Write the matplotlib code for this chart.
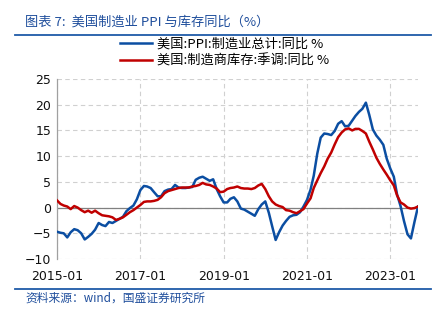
import matplotlib
matplotlib.use('Agg')
import matplotlib.pyplot as plt
import matplotlib.dates as mdates
import pandas as pd

plt.rcParams['font.family'] = ['Noto Sans CJK SC', 'DejaVu Sans']

# monthly, 2015-01 onwards
start = '2015-01'
ppi_mfg = [-4.7, -4.9, -5.0, -5.8, -4.8, -4.2, -4.4, -5.0, -6.2, -5.7,
           -5.1, -4.3, -3.0, -3.4, -3.6, -2.8, -3.0, -2.6, -2.2, -1.8,
           -0.7, -0.1, 0.4, 1.6, 3.4, 4.2, 4.1, 3.8, 3.0, 2.2,
           2.2, 3.2, 3.5, 3.6, 4.4, 3.9, 3.8, 3.8, 3.9, 4.0,
           5.4, 5.8, 6.0, 5.6, 5.2, 5.5, 3.6, 2.2, 1.0, 1.0,
           1.7, 2.0, 1.2, -0.2, -0.4, -0.8, -1.2, -1.6, -0.3, 0.6,
           1.2, -1.0, -3.6, -6.3, -4.8, -3.5, -2.6, -1.8, -1.5, -1.4,
           -0.9, 0.2, 1.5, 3.5, 6.2, 10.5, 13.6, 14.4, 14.3, 14.1,
           14.9, 16.3, 16.8, 15.8, 15.9, 16.9, 17.8, 18.6, 19.2, 20.4,
           18.0, 15.2, 14.0, 13.2, 12.2, 9.5, 7.6, 6.0, 2.6, 0.3,
           -2.6, -5.2, -6.0, -2.8, 0.2]
inventory = [1.4, 0.7, 0.4, 0.2, -0.3, 0.3, 0.0, -0.5, -0.9, -0.6,
             -1.0, -0.6, -1.1, -1.5, -1.6, -1.7, -1.9, -2.4, -2.2, -1.9,
             -1.4, -0.9, -0.5, 0.0, 0.5, 1.1, 1.2, 1.2, 1.3, 1.5,
             2.0, 2.8, 3.2, 3.4, 3.6, 3.8, 3.9, 3.9, 3.9, 4.1,
             4.2, 4.4, 4.8, 4.5, 4.4, 4.1, 3.7, 3.0, 3.1, 3.6,
             3.8, 3.9, 4.1, 3.8, 3.7, 3.7, 3.6, 3.8, 4.3, 4.6,
             3.6, 2.2, 1.2, 0.6, 0.3, 0.1, -0.5, -0.6, -0.9, -1.1,
             -0.7, -0.3, 0.8, 1.8, 3.8, 5.3, 6.7, 8.0, 9.5, 10.7,
             12.3, 13.7, 14.6, 15.2, 15.4, 15.0, 15.3, 15.3, 14.9, 14.4,
             12.8, 11.3, 9.7, 8.5, 7.4, 6.4, 5.3, 4.3, 2.4, 1.0,
             0.6, 0.0, -0.2, -0.1, 0.2]
series_names = ['美国:PPI:制造业总计:同比 %', '美国:制造商库存:季调:同比 %']
x_ticks = ['2015-01', '2017-01', '2019-01', '2021-01', '2023-01']
y_ticks = [-10, -5, 0, 5, 10, 15, 20, 25]

dates = pd.date_range(start, periods=len(ppi_mfg), freq='MS')

blue = '#0B4EA2'
red = '#C00000'
title_blue = '#1F4E9C'

fig = plt.figure(figsize=(4.44, 3.22), dpi=100)
ax = fig.add_axes([57 / 444, 1 - 259 / 322, 361 / 444, 180 / 322])

ax.plot(dates, ppi_mfg, color=blue, lw=1.8, label=series_names[0], zorder=3)
ax.plot(dates, inventory, color=red, lw=1.8, label=series_names[1], zorder=3)

ax.set_xlim(dates[0], dates[-1])
ax.set_ylim(-10, 25)
ax.set_yticks(y_ticks)
ax.set_xticks(pd.to_datetime(x_ticks))
ax.xaxis.set_major_formatter(mdates.DateFormatter('%Y-%m'))
ax.tick_params(length=0, labelsize=9, colors='#111111', pad=4)
for lab in ax.get_xticklabels() + ax.get_yticklabels():
    lab.set_family('DejaVu Sans')
ax.tick_params(axis='x', pad=8)

ax.grid(True, color='#D0D0D0', ls=(0, (4, 3)), lw=0.8)
ax.axhline(0, color='#808080', lw=0.9, zorder=2)
for s in ['top', 'right', 'bottom']:
    ax.spines[s].set_visible(False)
ax.spines['left'].set_color('#A0A0A0')
ax.spines['left'].set_linewidth(0.9)

fig.legend(loc='upper left', bbox_to_anchor=(120 / 444, 1 - 38 / 322),
           frameon=False, fontsize=9.5, handlelength=2.4, handletextpad=0.4,
           labelspacing=0.25, borderaxespad=0, borderpad=0)

fig.text(25 / 444, 1 - 22 / 322, '图表 7:  美国制造业 PPI 与库存同比（%）',
         color=title_blue, fontsize=9.5, va='center', ha='left')
fig.text(25 / 444, 1 - 298 / 322, '资料来源：wind，国盛证券研究所',
         color=title_blue, fontsize=8.5, va='center', ha='left')
fig.add_artist(plt.Line2D([15 / 444, 431 / 444], [1 - 35 / 322] * 2,
                          color='#1F5BA8', lw=1.3))
fig.add_artist(plt.Line2D([15 / 444, 431 / 444], [1 - 288.5 / 322] * 2,
                          color='#1F5BA8', lw=1.3))

fig.savefig('out.png', dpi=100)
